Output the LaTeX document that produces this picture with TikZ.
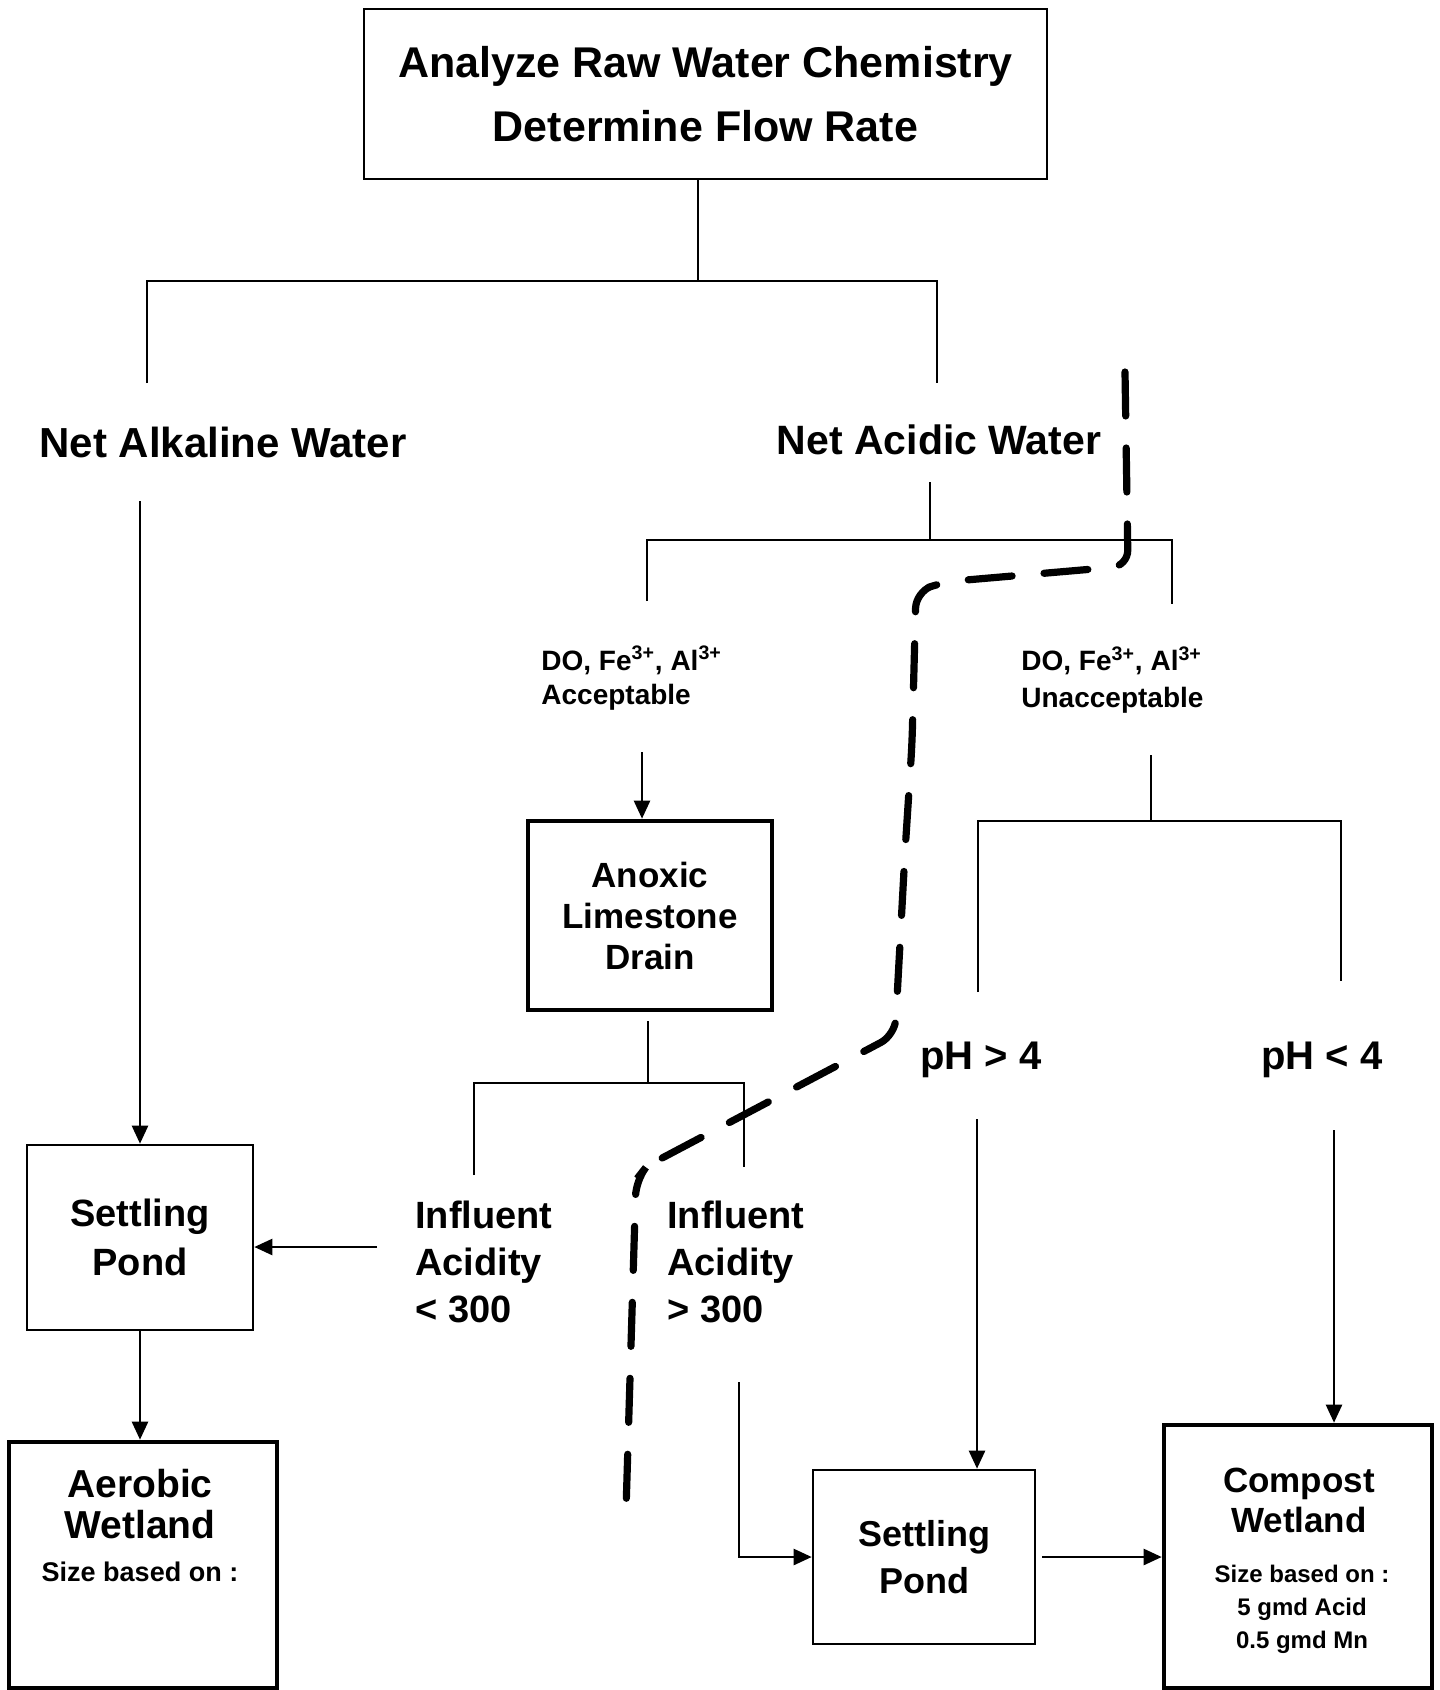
\documentclass[tikz,border=0pt]{standalone}
\usepackage{fontspec}
\setmainfont{Liberation Sans}
\usetikzlibrary{arrows.meta}
\newcommand\fsz[2]{\fontsize{#1}{#2}\selectfont\bfseries}
\begin{document}
\begin{tikzpicture}[x=0.5pt,y=-0.5pt,
  line/.style={line width=1.2pt},
  arr/.style={line width=1.2pt,-{Triangle[length=9pt,width=8pt]}},
  box/.style={draw,line width=1.3pt,align=center,inner sep=0pt},
  thickbox/.style={box,line width=2.3pt},
  lbl/.style={inner sep=0pt},
  dashline/.style={line width=3.6pt,line cap=round,dash pattern=on 22pt off 16pt,rounded corners=8pt}
]
\useasboundingbox (0,0) rectangle (1439,1690);

% top box
\node[box,minimum width=341.5pt,minimum height=85pt,font=\fsz{21.5}{32}] (top) at (705.5,94)
  {Analyze Raw Water Chemistry\\Determine Flow Rate};
\coordinate (c1) at (698,281);
\coordinate (bL) at (147,281);
\coordinate (bR) at (937,281);
\draw[line] (top.south -| c1) -- (c1);
\draw[line] (bL) ++(0,102) -- (bL) -- (bR) -- ++(0,102);

% level 2 labels
\node[lbl,font=\fsz{21}{26}] (alk) at (223,442) {Net Alkaline Water};
\node[lbl,font=\fsz{20.5}{26}] (acid) at (939,440) {Net Acidic Water};

% left column
\node[box,minimum width=113pt,minimum height=92.5pt,font=\fsz{19}{24.5}] (sp1) at (140,1237.5) {Settling\\Pond};
\node[thickbox,minimum width=134pt,minimum height=123pt] (aer) at (143,1565) {};
\node[lbl,align=center,font=\fsz{19.5}{20.5}] (aertitle) at (140,1504) {Aerobic\\Wetland};
\node[lbl,font=\fsz{13.5}{16}] (aersize) at (140,1572) {Size based on :};
\coordinate (a1) at (140,501);
\draw[arr] (a1) -- (sp1);
\draw[arr] (sp1.south) -- (sp1.south |- aer.north);

% acidic split
\coordinate (ad) at (930,482);
\coordinate (ac) at (930,540);
\coordinate (hL) at (647,540);
\coordinate (hR) at (1172,540);
\draw[line] (ad) -- (ac);
\draw[line] (hL) ++(0,61) -- (hL) -- (hR) -- ++(0,64);

\node[lbl,align=left,anchor=west,font=\fsz{14}{17}] (acc) at (541,678)
  {DO, Fe\textsuperscript{3+}, Al\textsuperscript{3+}\\Acceptable};
\node[lbl,align=left,anchor=west,font=\fsz{14}{18.5}] (unacc) at (1021,680)
  {DO, Fe\textsuperscript{3+}, Al\textsuperscript{3+}\\Unacceptable};

% ALD
\node[thickbox,minimum width=122pt,minimum height=94.5pt,font=\fsz{17.5}{20.5}] (ald) at (650,915.5)
  {Anoxic\\Limestone\\Drain};
\coordinate (a2) at (642,752);
\draw[arr] (a2) -- (a2 |- ald.north);

\coordinate (d1) at (648,1021);
\coordinate (d2) at (648,1083);
\coordinate (dL) at (474,1083);
\coordinate (dR) at (744,1083);
\draw[line] (d1) -- (d2);
\draw[line] (dL) ++(0,92) -- (dL) -- (dR) -- ++(0,84);

\node[lbl,align=left,anchor=west,font=\fsz{19}{23.5}] (inf1) at (415,1262) {Influent\\Acidity\\< 300};
\node[lbl,align=left,anchor=west,font=\fsz{19}{23.5}] (inf2) at (667,1262) {Influent\\Acidity\\> 300};
\coordinate (a3) at (377,1247);
\draw[arr] (a3) -- (a3 -| sp1.east);

% right settling pond and compost
\node[box,minimum width=111pt,minimum height=87pt,font=\fsz{18}{23.5}] (sp2) at (924,1557) {Settling\\Pond};
\node[thickbox,minimum width=134pt,minimum height=131.5pt] (comp) at (1298,1556.5) {};
\node[lbl,align=center,font=\fsz{17.5}{20}] (comptitle) at (1299,1500) {Compost\\Wetland};
\node[lbl,align=center,font=\fsz{12}{16.5}] (compsize) at (1302,1609) {Size based on :\\5 gmd Acid\\0.5 gmd Mn};

\coordinate (a4) at (739,1382);
\draw[arr] (a4) -- (a4 |- sp2.west) -- (sp2.west);
\draw[arr] ([xshift=3pt]sp2.east) -- (sp2.east -| comp.west);

% unacceptable split
\coordinate (u1) at (1151,755);
\coordinate (u2) at (1151,821);
\coordinate (uL) at (978,821);
\coordinate (uR) at (1341,821);
\draw[line] (u1) -- (u2);
\draw[line] (uL) ++(0,171) -- (uL) -- (uR) -- ++(0,160);

\node[lbl,font=\fsz{20}{24}] (ph1) at (981,1060) {pH > 4};
\node[lbl,font=\fsz{20}{24}] (ph2) at (1322,1060) {pH < 4};
\coordinate (a5) at (977,1119);
\coordinate (a6) at (1334,1130);
\draw[arr] (a5) -- (a5 |- sp2.north);
\draw[arr] (a6) -- (a6 |- comp.north);

% dashed boundary
\draw[dashline] (1125,372) -- (1128,566) -- (943,582) -- (916,592) -- (912,744) -- (905,852) -- (895,1035)
  -- (647,1166) -- (636,1180) -- (626,1510);
\end{tikzpicture}
\end{document}
